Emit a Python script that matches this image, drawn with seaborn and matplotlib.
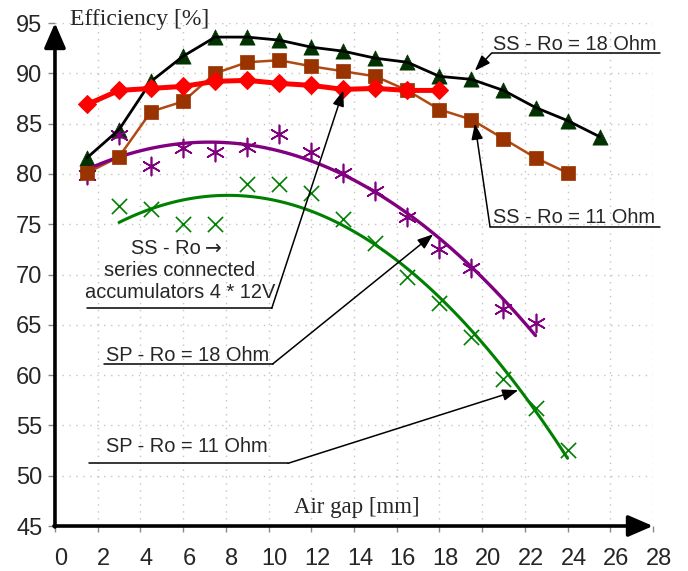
import matplotlib
matplotlib.use("Agg")
import matplotlib.pyplot as plt
import matplotlib.transforms as mtransforms
import seaborn as sns

# values
gap = [1.5, 3.0, 4.5, 6.0, 7.5, 9.0, 10.5, 12.0, 13.5, 15.0, 16.5, 18.0, 19.5, 21.0, 22.5, 24.0, 25.5]

ss18_x = gap
ss18_eff = [81.6, 84.4, 89.2, 91.7, 93.6, 93.6, 93.3, 92.6, 92.2, 91.5, 91.1, 89.7, 89.4, 88.3, 86.6, 85.3, 83.7]

ss11_x = gap[:16]
ss11_eff = [80.1, 81.7, 86.2, 87.2, 90.0, 91.1, 91.3, 90.7, 90.2, 89.7, 88.3, 86.4, 85.4, 83.5, 81.6, 80.1]

acc_x = gap[:12]
acc_eff = [86.9, 88.3, 88.5, 88.7, 89.2, 89.3, 89.0, 88.8, 88.4, 88.5, 88.3, 88.3]

sp18_x = gap[:15]
sp18_eff = [79.9, 83.9, 80.8, 82.6, 82.2, 82.7, 84.0, 82.2, 80.1, 78.3, 75.7, 72.5, 70.6, 66.6, 65.2]

sp11_x = gap[1:16]
sp11_eff = [76.8, 76.5, 75.0, 75.0, 79.0, 79.0, 78.1, 75.5, 73.1, 69.8, 67.2, 63.8, 59.6, 56.7, 52.6]

x_ticks = list(range(0, 29, 2))
y_ticks = list(range(45, 96, 5))

sns.set_style("white")
plt.rcParams['font.family'] = ['Liberation Sans', 'DejaVu Sans']

fig = plt.figure(figsize=(6.88, 5.71), dpi=100)
ax = fig.add_axes([0.0799, 0.0788, 0.8692, 0.8809])

# SS - Ro = 18 Ohm : triangles with black line on top
sns.scatterplot(x=ss18_x, y=ss18_eff, marker='^', s=120, color='#003300',
                edgecolor='#003300', linewidth=0.5, ax=ax, zorder=3)
sns.lineplot(x=ss18_x, y=ss18_eff, color='black', lw=2, ax=ax, zorder=4)

# SS - Ro = 11 Ohm : brown squares
sns.lineplot(x=ss11_x, y=ss11_eff, color='#B04A12', lw=1.8, ax=ax, zorder=3)
sns.scatterplot(x=ss11_x, y=ss11_eff, marker='s', s=110, color='#993300',
                edgecolor='#993300', linewidth=0.5, ax=ax, zorder=4)

# SS - accumulators : red diamonds
sns.lineplot(x=acc_x, y=acc_eff, color='#FF0000', lw=3.6, marker='D', ms=9,
             markeredgecolor='#FF0000', ax=ax, zorder=5)

# SP series : scatter + 2nd order trend
sns.regplot(x=sp18_x, y=sp18_eff, order=2, ci=None, marker=(6, 2, 0), color='#800080',
            scatter_kws=dict(s=170, linewidths=1.2, alpha=1, zorder=3),
            line_kws=dict(lw=2.4, zorder=3), ax=ax)
sns.regplot(x=sp11_x, y=sp11_eff, order=2, ci=None, marker='x', color='#008000',
            scatter_kws=dict(s=120, linewidths=1.2, alpha=1, zorder=3),
            line_kws=dict(lw=2.2, zorder=3), ax=ax)

ax.set_xlim(0, 28)
ax.set_ylim(45, 95)
ax.set_xticks(x_ticks)
ax.set_yticks(y_ticks)
ax.set_xlabel('')
ax.set_ylabel('')
ax.grid(True, color='#c4c4c4', lw=1, linestyle=(0, (1, 4)))
for sp in ax.spines.values():
    sp.set_visible(False)
ax.tick_params(axis='x', direction='out', length=4.5, width=1, color='#888888',
               pad=11, labelsize=17, bottom=True)
ax.tick_params(axis='y', direction='out', length=5, width=1, color='#888888',
               pad=4, labelsize=17, left=True)
shift = mtransforms.ScaledTranslation(0.06, 0, fig.dpi_scale_trans)
for lab in ax.get_xticklabels():
    lab.set_transform(lab.get_transform() + shift)

# axes drawn as thick arrows
axis_arrow = dict(arrowstyle='-|>,head_length=1.5,head_width=0.65', lw=2.6,
                  color='black', mutation_scale=10, shrinkA=0, shrinkB=0)
ax.annotate('', xy=(28, 45), xytext=(-0.05, 45), arrowprops=axis_arrow,
            annotation_clip=False, zorder=6)
ax.annotate('', xy=(0, 95), xytext=(0, 44.9), arrowprops=axis_arrow,
            annotation_clip=False, zorder=6)

ax.text(0.7, 95.3, 'Efficiency [%]', family='Liberation Serif', fontsize=17,
        ha='left', va='center')
ax.text(14.14, 46.8, 'Air gap [mm]', family='Liberation Serif', fontsize=16.5,
        ha='center', va='center')

# callouts: underline + leader arrow
lead = dict(arrowstyle='-|>,head_length=0.95,head_width=0.35', lw=1.1, color='black',
            mutation_scale=10, shrinkA=0, shrinkB=0)
FS = 14.4


def callout(text_xy, text, ha, under, start, tip):
    if text:
        ax.text(*text_xy, text, fontsize=FS, ha=ha, va='baseline')
    ax.plot(under[0], under[1], color='black', lw=1.1, clip_on=False, zorder=6)
    ax.annotate('', xy=tip, xytext=start, arrowprops=lead, annotation_clip=False, zorder=6)


callout((20.5, 92.35), 'SS - Ro = 18 Ohm', 'left',
        ([20.44, 28.32], [92.0, 92.0]), (20.44, 92.0), (19.66, 90.26))
callout((20.5, 75.1), 'SS - Ro = 11 Ohm', 'left',
        ([20.37, 28.32], [74.75, 74.75]), (20.37, 74.75), (19.66, 85.0))

# three-line note for the accumulator series
ax.text(6.84, 72.07, 'SS - Ro', fontsize=FS, ha='right', va='baseline')
ax.text(7.0, 72.07, '\u2192', family='DejaVu Sans', fontsize=FS, ha='left', va='baseline')
ax.text(5.85, 69.82, 'series connected', fontsize=FS, ha='center', va='baseline')
ax.text(5.85, 67.69, 'accumulators 4 * 12V', fontsize=FS, ha='center', va='baseline')
callout(None, '', 'center',
        ([1.48, 10.15], [66.64, 66.64]), (10.15, 66.64), (13.5, 88.3))

callout((6.2, 61.4), 'SP - Ro = 18 Ohm', 'center',
        ([2.29, 10.19], [61.1, 61.1]), (10.19, 61.1), (17.71, 74.0))
callout((6.18, 52.35), 'SP - Ro = 11 Ohm', 'center',
        ([1.61, 10.91], [51.23, 51.23]), (10.91, 51.23), (21.69, 58.5))

fig.savefig('out.png', dpi=100)
